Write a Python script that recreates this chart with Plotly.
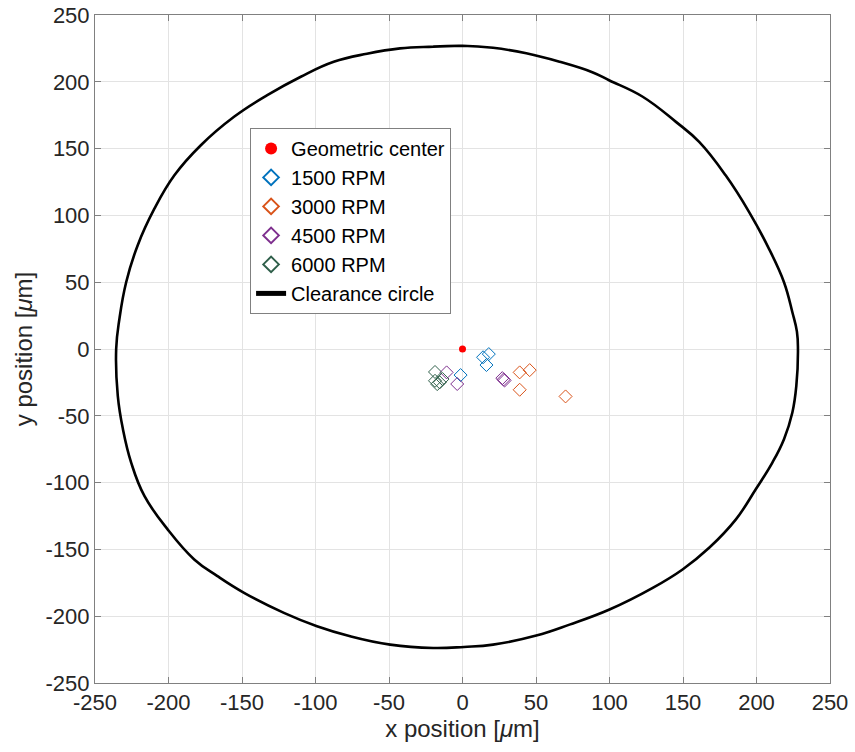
import plotly.graph_objects as go

center_x = [0]
center_y = [0]

rpm1500_x = [14.0, 17.9, 16.3, -1.3]
rpm1500_y = [-6.2, -3.8, -12.0, -19.5]

rpm3000_x = [38.9, 45.7, 38.9, 70.1]
rpm3000_y = [-17.5, -15.8, -30.5, -35.5]

rpm4500_x = [-10.8, -3.6, 27.1, 28.0, 28.6]
rpm4500_y = [-17.5, -26.2, -21.8, -22.8, -23.6]

rpm6000_x = [-18.7, -18.7, -17.2, -13.6, -15.5]
rpm6000_y = [-17.2, -23.8, -26.3, -22.5, -25.0]

# clearance boundary, starting at the top and going round anticlockwise
circle_x = [0, -19.9, -42.5, -65, -87.6, -110, -132.8, -155.4, -178, -196, -209.6, -221, -228.8, -233.4, -235.6,
            -234.5, -231, -225.4, -216.4, -200.6, -182.5, -166.7, -148.6, -121.5, -99, -76.4, -49.2, -19.9, 1,
            20.8, 50.2, 72.8, 100, 129.4, 149.7, 167.8, 186, 199.5, 210.8, 218.7, 224.4, 227.1, 228.2,
            227.5, 224.4, 218.7, 208.5, 195, 179, 161, 145.2, 122.6, 100, 88.7, 66, 43.4, 20.8, 0, -19.9]
circle_y = [227, 226.3, 225, 221, 215, 203.8, 190, 173.8, 152.5, 130, 105, 77.5, 50, 22.5, 0,
            -35, -60, -85, -110, -135, -157.5, -170, -182.5, -197.5, -207.5, -215, -221.3, -223.8, -223,
            -221.3, -214.5, -206.3, -195, -178.8, -165, -148.8, -127.5, -105, -85, -67.5, -47.5, -27.5, 0,
            13, 27.5, 50, 75, 102.5, 130, 155, 170, 188.8, 201, 207, 215, 221.3, 225.5, 227, 226.3]

tick_vals = [-250, -200, -150, -100, -50, 0, 50, 100, 150, 200, 250]
tick_text = ["-250", "-200", "-150", "-100", "-50", "0", "50", "100", "150", "200", "250"]

FONT = "Liberation Sans, Arial, Helvetica, sans-serif"

fig = go.Figure()
fig.add_trace(go.Scatter(x=center_x, y=center_y, mode="markers", name="Geometric center",
                         marker=dict(color="#ff0000", size=7, symbol="circle")))
for xs, ys, nm, col in [(rpm1500_x, rpm1500_y, "1500 RPM", "#0072BD"),
                        (rpm3000_x, rpm3000_y, "3000 RPM", "#D95319"),
                        (rpm4500_x, rpm4500_y, "4500 RPM", "#7E2F8E"),
                        (rpm6000_x, rpm6000_y, "6000 RPM", "#2F5F4A")]:
    fig.add_trace(go.Scatter(x=xs, y=ys, mode="markers", name=nm,
                             marker=dict(symbol="diamond-open", size=10, color=col,
                                         line=dict(width=1, color=col))))
fig.add_trace(go.Scatter(x=circle_x, y=circle_y, mode="lines", name="Clearance circle",
                         line=dict(color="black", width=2.6, shape="spline", smoothing=1.2)))

axis_common = dict(range=[-250, 250], tickvals=tick_vals, ticktext=tick_text,
                   showgrid=True, gridcolor="#e3e3e3", gridwidth=1,
                   showline=True, linecolor="#808080", linewidth=1, mirror="ticks",
                   ticks="inside", ticklen=6, tickcolor="#808080", zeroline=False,
                   automargin=False, ticklabeloverflow="allow",
                   tickfont=dict(family=FONT, size=22, color="#262626"))
fig.update_xaxes(**axis_common, title=dict(text="x position [<i>μ</i>m]", font=dict(family=FONT, size=24, color="#262626"), standoff=2))
fig.update_yaxes(**axis_common, title=dict(text="y position [<i>μ</i>m]", font=dict(family=FONT, size=24, color="#262626"), standoff=6))

fig.update_layout(
    width=855, height=752,
    margin=dict(l=95, r=25, t=15, b=69),
    paper_bgcolor="white", plot_bgcolor="white",
    font=dict(family=FONT, size=21, color="#262626"),
    legend=dict(x=0.211, y=0.831, xanchor="left", yanchor="top",
                bgcolor="white", bordercolor="#808080", borderwidth=1,
                font=dict(family=FONT, size=20, color="black"),
                tracegroupgap=0, itemsizing="constant"),
    showlegend=True,
)

fig.write_html("out.html", config={"displayModeBar": False},
               post_script="document.body.style.margin='0';")
